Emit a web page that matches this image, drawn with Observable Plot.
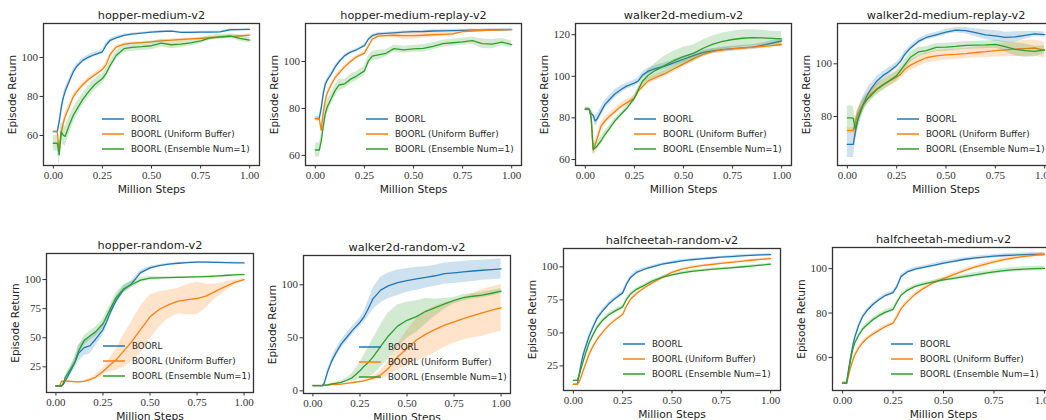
<!DOCTYPE html>
<html><head><meta charset="utf-8">
<script src="https://cdn.jsdelivr.net/npm/d3@7"></script>
<script src="https://cdn.jsdelivr.net/npm/@observablehq/plot@0.6"></script>
<style>
html,body{margin:0;padding:0;background:#fff;}
#fig{position:relative;width:1046px;height:420px;overflow:hidden;background:#fff;}
#fig > svg{position:absolute;}
</style></head><body><div id="fig"></div>
<script>
// ---------- data ----------
const steps = [0, 0.02, 0.03, 0.04, 0.05, 0.06, 0.08, 0.1, 0.12, 0.15, 0.18, 0.21, 0.25, 0.27, 0.29, 0.32, 0.36, 0.4, 0.45, 0.5, 0.55, 0.6, 0.65, 0.7, 0.75, 0.8, 0.85, 0.9, 0.95, 1.0];
const seriesNames = ["BOORL", "BOORL (Uniform Buffer)", "BOORL (Ensemble Num=1)"];
const xTicks = [0, 0.25, 0.5, 0.75, 1];

// hopper-medium-v2
const hopperMediumTicks = [60, 80, 100];
const hopperMediumBoorl = [62, 62, 67, 74, 79, 82.5, 87.5, 92.3, 95.5, 98.5, 100.2, 101.5, 102.9, 106.5, 108.8, 110, 111.3, 112, 112.5, 113, 113.3, 113.5, 112.8, 112.9, 113, 113, 113.1, 114.2, 114.3, 114.4];
const hopperMediumUniform = [62, 62, 52, 61, 66, 69.6, 74.4, 79.5, 82.5, 86, 88.8, 91, 93.8, 96.5, 101.5, 105.3, 106.8, 107.3, 107.6, 108, 108.5, 108.9, 109.2, 109.5, 109.8, 110.1, 110.4, 110.7, 111, 111.4];
const hopperMediumEnsemble = [56, 56, 50, 62, 60.2, 59.5, 65, 70, 73.5, 78.5, 82.5, 86, 89.2, 92, 96, 101, 104.5, 105.2, 105.5, 106, 107.3, 106.5, 106.8, 107.5, 108.5, 110, 110.5, 111, 109.8, 108.9];
const hopperMediumBoorlBand = [0.5, 0.5, 2, 2, 2, 2, 1.5, 1.5, 1.3, 1.2, 1.2, 1.2, 1.2, 1.2, 1, 0.8, 0.6, 0.5, 0.4, 0.4, 0.4, 0.4, 0.4, 0.4, 0.4, 0.4, 0.4, 0.4, 0.4, 0.4];
const hopperMediumUniformBand = [0.5, 0.5, 2, 2.5, 2.5, 2, 1.5, 1.5, 1.3, 1.2, 1.2, 1.2, 1.2, 1.2, 1, 0.8, 0.6, 0.5, 0.5, 0.5, 0.5, 0.5, 0.5, 0.5, 0.5, 0.5, 0.6, 0.7, 0.8, 0.8];
const hopperMediumEnsembleBand = [4, 4, 5, 5, 5, 5, 4.5, 4, 3.5, 3, 3, 3, 2.5, 2.5, 2.5, 2, 2, 2, 2, 2, 2, 2, 1.8, 1.5, 1.5, 1.2, 1.2, 1.2, 1.5, 1.5];

// hopper-medium-replay-v2
const hopperReplayTicks = [60, 80, 100];
const hopperReplayBoorl = [75.7, 75.7, 80, 86, 90, 92, 94.5, 97.5, 99.8, 102.5, 104, 105, 106.8, 109.5, 111, 111.8, 112, 112.2, 112.5, 112.7, 112.8, 113, 113.1, 113.2, 113.3, 113.4, 113.4, 113.5, 113.5, 113.6];
const hopperReplayUniform = [75.7, 75.7, 70.8, 78, 83, 86.4, 90, 93, 95, 97.8, 100, 102, 103.6, 106.5, 109.5, 110.8, 111, 111.2, 111, 111, 111.2, 111.4, 111.6, 111.8, 112.7, 113, 113.2, 113.4, 113.5, 113.6];
const hopperReplayEnsemble = [62.3, 62.3, 66, 72, 77.5, 80.5, 84, 87.5, 90, 90.5, 92.5, 93.8, 96, 100.2, 102.3, 102.8, 103.5, 105.5, 105, 105.4, 105.6, 106.5, 107.6, 108, 108.4, 108.9, 107.6, 107.4, 108.3, 107.2];
const hopperReplayBoorlBand = [1, 1, 1.5, 1.5, 1.2, 1, 0.8, 0.8, 0.7, 0.6, 0.5, 0.5, 0.5, 0.5, 0.5, 0.5, 0.5, 0.5, 0.5, 0.5, 0.5, 0.5, 0.5, 0.5, 0.5, 0.5, 0.5, 0.5, 0.5, 0.5];
const hopperReplayUniformBand = [0.5, 0.5, 1.5, 1.5, 1.2, 1, 1, 0.8, 0.8, 0.7, 0.7, 0.7, 0.7, 0.8, 0.8, 0.7, 0.7, 0.8, 1.5, 1.5, 1.2, 1, 1, 0.8, 0.6, 0.5, 0.5, 0.5, 0.5, 0.5];
const hopperReplayEnsembleBand = [3, 3, 3, 3, 3, 3, 2.5, 2.5, 2.5, 2, 2, 2, 2, 2, 2, 2, 1.5, 1.5, 1.5, 1.5, 1.5, 1.5, 1.5, 1.5, 1.5, 1.5, 2, 2, 1.5, 1.5];

// walker2d-medium-v2
const walkerMediumTicks = [60, 80, 100, 120];
const walkerMediumBoorl = [84.2, 84.2, 82, 81.3, 78.5, 79.5, 83, 86.5, 88.5, 91.5, 93.5, 95.3, 96.7, 97.8, 100.5, 102.5, 103.8, 104.8, 106.5, 108.2, 110, 111.5, 112.2, 112.8, 113.3, 113.7, 114, 114.9, 116, 117];
const walkerMediumUniform = [84.2, 84.2, 80, 64.5, 67, 70, 76, 78.5, 80.5, 83, 85.5, 87.2, 89.5, 93, 95, 97.8, 99.5, 101, 103.5, 106, 108.5, 110.5, 112, 112.7, 113.2, 113.6, 114, 114.3, 114.8, 115.3];
const walkerMediumEnsemble = [84.2, 84.2, 80, 65, 65.5, 66.5, 69, 72, 74.5, 78.5, 81.5, 84.5, 89.5, 93.5, 97.5, 100.5, 103, 105, 107.5, 109.5, 111, 113.5, 115.5, 116.8, 117.7, 118.3, 118.6, 118.5, 118.2, 118];
const walkerMediumBoorlBand = [1, 1, 1.5, 1.5, 2.5, 2.5, 2, 2, 2, 2, 1.8, 1.5, 1.5, 1.5, 1.5, 1.5, 1.5, 1.5, 1.5, 1.5, 1.2, 1.2, 1.2, 1.2, 1.2, 1.2, 1.2, 1.2, 1.2, 1.2];
const walkerMediumUniformBand = [0.5, 0.5, 1.5, 2.5, 2.5, 2, 2, 1.8, 1.5, 1.5, 1.5, 1.5, 1.5, 1.5, 1.5, 1.5, 1.5, 1.5, 1.5, 1.5, 1.5, 1.2, 1.2, 1, 1, 1, 1, 1, 1, 1];
const walkerMediumEnsembleBand = [0.5, 0.5, 1.5, 2.5, 2.5, 2, 2, 1.8, 1.5, 1.2, 1.2, 1.2, 1.5, 1.5, 2, 2.5, 3.5, 4.5, 4.5, 4.5, 4, 4, 4, 4, 4, 4, 3.8, 3.6, 3.5, 3.5];

// walker2d-medium-replay-v2
const walkerReplayTicks = [80, 100];
const walkerReplayBoorl = [69.4, 69.4, 69.4, 74, 78, 80.5, 84.5, 88, 90.5, 93.5, 95.5, 97, 99.4, 101, 103.5, 106, 108.5, 110, 111, 112, 112.8, 112.6, 111.8, 111, 110.6, 110, 110.2, 110.8, 111.4, 111.1];
const walkerReplayUniform = [74.7, 74.7, 74.7, 77.5, 80.4, 82, 84.5, 86.5, 88.5, 90.5, 92, 93.3, 95, 96, 97.8, 99.5, 101, 102.3, 103, 103.4, 103.6, 103.9, 104.3, 104.6, 105, 105.3, 105.6, 105.8, 106, 105.1];
const walkerReplayEnsemble = [79.5, 79.5, 79.3, 75.3, 78, 80.5, 84.5, 86.5, 88, 90.3, 92, 93.5, 95.5, 97.5, 99.5, 102.5, 104.5, 105, 106.2, 106.3, 106.6, 107, 107.1, 107.2, 107.4, 106.5, 105.5, 105, 104.7, 105.3];
const walkerReplayBoorlBand = [5, 5, 5, 4.5, 4, 3.5, 3, 2.5, 2, 1.8, 1.5, 1.5, 1.2, 1.2, 1.2, 1, 1, 1, 1, 1, 1, 1.2, 1.5, 1.8, 2, 2, 2, 1.5, 1, 1];
const walkerReplayUniformBand = [1, 1, 1, 1.5, 2, 2, 2, 2, 2, 2, 2, 2, 2, 2, 2, 2, 2, 2, 2, 2, 2, 2, 2, 2.2, 2.4, 2.6, 2.8, 3, 3, 3];
const walkerReplayEnsembleBand = [4.5, 4.5, 4.5, 4, 3.5, 3, 2.5, 2, 2, 2, 2, 2, 2, 2, 2, 2, 1.8, 1.5, 1.5, 1.5, 1.5, 1.5, 1.5, 1.5, 1.5, 2, 2.5, 2.5, 2, 1.5];

// hopper-random-v2
const hopperRandomTicks = [25, 50, 75, 100];
const hopperRandomBoorl = [8.5, 8.5, 8.5, 10, 13, 16, 22, 28.5, 36.5, 41.5, 43, 48.5, 57, 64, 72, 82, 91.5, 96, 106, 110, 112, 113.2, 114, 114.6, 114.9, 114.9, 114.7, 114.5, 114.4, 114.3];
const hopperRandomUniform = [8.5, 8.5, 12.5, 12.5, 12.5, 12.8, 12.5, 12, 12, 12.5, 14, 16, 21, 24, 27, 31, 38.5, 46, 57, 68, 74.5, 78.5, 81.5, 82.7, 83.7, 86, 90, 94, 97.5, 100];
const hopperRandomEnsemble = [8.5, 8.5, 8.5, 11, 16, 18.5, 23.5, 29, 38.5, 47.5, 51.5, 55, 62, 68.5, 75, 84.5, 92, 95.5, 99.5, 101.2, 101.5, 101.7, 101.9, 102.1, 102.3, 102.6, 103, 103.5, 104, 104.3];
const hopperRandomBoorlBand = [0.5, 0.5, 0.5, 1, 2, 3, 4, 5, 7, 7, 7, 6, 5, 4.5, 4, 3.5, 3, 2.5, 2, 1.5, 1, 0.8, 0.8, 0.6, 0.6, 0.6, 0.6, 0.6, 0.6, 0.6];
const hopperRandomUniformBand = [0.3, 0.3, 0.5, 0.5, 0.5, 0.5, 0.5, 0.5, 0.5, 1, 1, 2, 3, 4, 6, 9, 14, 17, 20, 19, 15, 12, 11, 13, 14, 10, 6, 4, 2, 1];
const hopperRandomEnsembleBand = [0.5, 0.5, 0.5, 1, 1.5, 2, 2.5, 3, 3.5, 4, 4, 4, 4, 4, 4, 4, 3.5, 3, 2, 1.5, 1, 0.8, 0.7, 0.6, 0.6, 0.6, 0.6, 0.6, 0.6, 0.6];

// walker2d-random-v2
const walkerRandomTicks = [0, 50, 100];
const walkerRandomBoorl = [5, 5, 5, 5, 5, 7, 19, 28, 35, 44, 50.5, 57, 64.7, 69.4, 76, 87, 95, 99, 102, 104, 105.5, 107, 108.5, 110.5, 111.3, 112.2, 113, 113.7, 114.3, 115];
const walkerRandomUniform = [5, 5, 5, 5, 5, 5.2, 5.5, 5.8, 6, 6.3, 7, 7.8, 8.8, 9.5, 10.3, 12, 15, 21, 32, 40, 48, 53.5, 58, 62, 65, 68, 71, 73.5, 76, 78.2];
const walkerRandomEnsemble = [5, 5, 5, 5, 5, 5.3, 5.6, 6.5, 7, 8, 10, 12.5, 18.9, 23, 26, 32, 42, 51.5, 61, 66.5, 70, 75, 78.5, 82, 85.2, 87.8, 89.2, 90.2, 92, 94];
const walkerRandomBoorlBand = [0.5, 0.5, 0.5, 0.5, 0.5, 1, 2, 3, 4, 4, 4, 4, 4, 5, 7, 10, 12, 12, 12, 11, 11, 10, 10, 10, 10, 10, 10, 9.5, 9.5, 9.5];
const walkerRandomUniformBand = [0.3, 0.3, 0.3, 0.3, 0.3, 0.3, 0.3, 0.3, 0.3, 0.3, 0.4, 0.4, 0.5, 1, 1.5, 2, 4, 7, 12, 17, 20, 22, 22, 21, 20, 20, 21, 22, 22, 22];
const walkerRandomEnsembleBand = [0.3, 0.3, 0.3, 0.3, 0.3, 0.3, 0.5, 0.7, 1, 1.5, 2, 4, 8, 10, 13, 17, 20, 22, 20, 17, 15, 12, 8, 5, 3, 3, 2.5, 2.5, 2.5, 2.5];

// halfcheetah-random-v2
const cheetahRandomTicks = [25, 50, 75, 100];
const cheetahRandomBoorl = [11.1, 11.1, 19, 27, 33.5, 38.5, 47.5, 54.5, 61, 67, 72, 75.8, 80.3, 87, 92, 95.8, 98.2, 99.9, 102, 103.3, 104.5, 105.4, 106.1, 106.7, 107.3, 107.8, 108.3, 108.7, 109, 109.3];
const cheetahRandomUniform = [11.1, 11.1, 13, 17, 21.5, 25.5, 34, 40, 45, 50.8, 55.7, 59.6, 63.9, 70.5, 75.5, 79.8, 84.2, 87.9, 91.8, 95.9, 98.2, 99.8, 100.9, 101.8, 102.6, 103.4, 104.2, 105, 105.7, 106.3];
const cheetahRandomEnsemble = [14.1, 14.1, 18, 23.5, 28.5, 33.5, 42.5, 48.7, 54.3, 59.8, 63.7, 66.5, 69.7, 75.5, 79.5, 83, 86, 89.3, 92, 93.9, 95.4, 96.6, 97.4, 98.1, 98.7, 99.3, 99.9, 100.6, 101.3, 102];
const cheetahRandomBoorlBand = [0.5, 0.5, 1, 1.5, 1.5, 1.5, 1.5, 1.5, 1.5, 1.5, 1.5, 1.5, 1.5, 1.5, 1.5, 1.5, 1.2, 1.2, 1, 1, 1, 1, 0.8, 0.8, 0.8, 0.8, 0.8, 0.8, 0.8, 0.8];
const cheetahRandomUniformBand = [0.5, 0.5, 0.8, 0.8, 0.8, 0.8, 0.8, 0.8, 0.8, 0.8, 0.8, 0.8, 0.8, 0.8, 0.8, 0.8, 0.8, 0.8, 0.8, 0.8, 0.8, 0.8, 0.8, 0.8, 0.8, 0.8, 0.8, 0.8, 0.8, 0.8];
const cheetahRandomEnsembleBand = [0.5, 0.5, 1, 1.2, 1.2, 1.2, 1.2, 1.5, 1.5, 1.5, 1.5, 1.5, 1.5, 1.2, 1.2, 1.2, 1, 1, 1, 1, 1, 1, 0.8, 0.8, 0.8, 0.8, 0.8, 0.8, 0.8, 0.8];

// halfcheetah-medium-v2
const cheetahMediumTicks = [60, 80, 100];
const cheetahMediumBoorl = [48.4, 48.4, 54.5, 60, 65, 69, 74.5, 78.5, 81, 83.8, 86, 87.8, 89.2, 92, 96.5, 98.5, 99.8, 100.5, 101.5, 102.5, 103.3, 104.1, 104.7, 105.2, 105.6, 105.9, 106.1, 106.3, 106.4, 106.5];
const cheetahMediumUniform = [48.4, 48.4, 52, 55.5, 58.5, 61, 64.3, 66.7, 68.5, 70.5, 72.2, 73.8, 75.4, 78.5, 82, 85, 88.5, 91, 93.6, 95.5, 97.3, 99, 100.5, 101.8, 103, 104, 104.8, 105.5, 106, 106.3];
const cheetahMediumEnsemble = [48.4, 48.4, 54, 59, 63.5, 66.5, 70, 72.8, 74.6, 77, 78.8, 80.3, 81.6, 85, 88, 90.2, 92, 93, 94, 94.9, 95.6, 96.4, 97.1, 97.8, 98.5, 99.1, 99.5, 99.8, 100, 100.1];
const cheetahMediumBoorlBand = [0.5, 0.5, 0.8, 0.8, 0.8, 0.8, 0.8, 0.8, 0.8, 0.8, 0.8, 0.8, 0.8, 0.8, 0.8, 0.8, 0.8, 0.8, 0.8, 0.8, 0.8, 0.8, 0.8, 0.8, 0.8, 0.8, 0.8, 0.8, 0.8, 0.8];
const cheetahMediumUniformBand = [0.5, 0.5, 0.8, 0.8, 0.8, 0.8, 0.8, 0.8, 0.8, 0.8, 0.8, 0.8, 0.8, 0.8, 0.8, 0.8, 0.8, 0.8, 0.8, 0.8, 0.8, 0.8, 0.8, 0.8, 0.8, 0.8, 0.8, 0.8, 0.8, 0.8];
const cheetahMediumEnsembleBand = [0.5, 0.5, 0.8, 0.8, 0.8, 0.8, 0.8, 1, 1, 1, 1, 1, 1, 0.8, 0.8, 0.8, 0.8, 0.8, 0.8, 0.8, 0.8, 0.8, 1, 1, 1, 1, 1, 1, 1, 1];

// ---------- layout ----------
const colors = ["#1f77b4", "#ff7f0e", "#2ca02c"];
const panels = [
  {title: "hopper-medium-v2", s: [hopperMediumBoorl, hopperMediumUniform, hopperMediumEnsemble], b: [hopperMediumBoorlBand, hopperMediumUniformBand, hopperMediumEnsembleBand], ticks: hopperMediumTicks, yd: [44.6, 117.4], L: 43, T: 23, W: 216, H: 142, lx: -128},
  {title: "hopper-medium-replay-v2", s: [hopperReplayBoorl, hopperReplayUniform, hopperReplayEnsemble], b: [hopperReplayBoorlBand, hopperReplayUniformBand, hopperReplayEnsembleBand], ticks: hopperReplayTicks, yd: [55.7, 116.2], L: 305, T: 23, W: 216, H: 142, lx: -126},
  {title: "walker2d-medium-v2", s: [walkerMediumBoorl, walkerMediumUniform, walkerMediumEnsemble], b: [walkerMediumBoorlBand, walkerMediumUniformBand, walkerMediumEnsembleBand], ticks: walkerMediumTicks, yd: [57.1, 125.4], L: 575, T: 23, W: 216, H: 142, lx: -128},
  {title: "walker2d-medium-replay-v2", s: [walkerReplayBoorl, walkerReplayUniform, walkerReplayEnsemble], b: [walkerReplayBoorlBand, walkerReplayUniformBand, walkerReplayEnsembleBand], ticks: walkerReplayTicks, yd: [61.4, 115.3], L: 837, T: 23, W: 217, H: 142, lx: -128},
  {title: "hopper-random-v2", s: [hopperRandomBoorl, hopperRandomUniform, hopperRandomEnsemble], b: [hopperRandomBoorlBand, hopperRandomUniformBand, hopperRandomEnsembleBand], ticks: hopperRandomTicks, yd: [2.9, 122.4], L: 46, T: 253, W: 207, H: 139, lx: -121},
  {title: "walker2d-random-v2", s: [walkerRandomBoorl, walkerRandomUniform, walkerRandomEnsemble], b: [walkerRandomBoorlBand, walkerRandomUniformBand, walkerRandomEnsembleBand], ticks: walkerRandomTicks, yd: [-2.5, 127.6], L: 303, T: 255, W: 207, H: 138, lx: -122},
  {title: "halfcheetah-random-v2", s: [cheetahRandomBoorl, cheetahRandomUniform, cheetahRandomEnsemble], b: [cheetahRandomBoorlBand, cheetahRandomUniformBand, cheetahRandomEnsembleBand], ticks: cheetahRandomTicks, yd: [6.4, 113.9], L: 562.5, T: 248, W: 217, H: 142, lx: -128},
  {title: "halfcheetah-medium-v2", s: [cheetahMediumBoorl, cheetahMediumUniform, cheetahMediumEnsemble], b: [cheetahMediumBoorlBand, cheetahMediumUniformBand, cheetahMediumEnsembleBand], ticks: cheetahMediumTicks, yd: [45.1, 109.5], L: 832, T: 247, W: 222, H: 143, lx: -134}
];

const ML = 50, MR = 14, MT = 26, MB = 30;
const SANS = "DejaVu Sans";
const SERIF = "Liberation Serif";
const legendRows = [-46, -31, -16];
const fig = document.getElementById("fig");

for (const p of panels) {
  const marks = [];
  p.s.forEach((vals, k) => {
    const data = steps.map((x, i) => ({step: x, value: vals[i], lo: vals[i] - p.b[k][i], hi: vals[i] + p.b[k][i]}));
    marks.push(Plot.areaY(data, {x: "step", y1: "lo", y2: "hi", fill: colors[k], fillOpacity: 0.22}));
    marks.push(Plot.lineY(data, {x: "step", y: "value", stroke: colors[k], strokeWidth: 1.3}));
  });
  marks.push(Plot.axisX(xTicks, {tickFormat: d3.format(".2f"), tickSize: 3.5, tickPadding: 2, fontSize: 11, label: null}));
  marks.push(Plot.axisY(p.ticks, {tickSize: 3.5, tickPadding: 2, fontSize: 11, label: null}));
  marks.push(Plot.frame({stroke: "#333", strokeWidth: 1.3}));
  marks.push(Plot.text([p.title], {frameAnchor: "top", lineAnchor: "middle", textAnchor: "middle", dy: -8, fontSize: 11.3, fontFamily: SANS, fill: "#222"}));
  marks.push(Plot.text(["Episode Return"], {frameAnchor: "left", lineAnchor: "middle", textAnchor: "middle", rotate: -90, dx: -31, fontSize: 10.5, fontFamily: SANS, fill: "#222"}));
  marks.push(Plot.text(["Million Steps"], {frameAnchor: "bottom", lineAnchor: "middle", textAnchor: "middle", dy: 24, fontSize: 10.7, fontFamily: SANS, fill: "#222"}));
  // legend
  marks.push((index, scales, values, dim) => {
    const g = d3.create("svg:g");
    const R = dim.width - dim.marginRight, B = dim.height - dim.marginBottom;
    seriesNames.forEach((name, i) => {
      const y = B + legendRows[i];
      const tx = R + p.lx;
      g.append("line").attr("x1", tx - 29).attr("x2", tx - 7).attr("y1", y).attr("y2", y)
        .attr("stroke", colors[i]).attr("stroke-width", 1.5);
      g.append("text").attr("x", tx).attr("y", y).attr("dy", "0.35em")
        .attr("text-anchor", "start")
        .attr("font-family", SANS).attr("font-size", 8.7).attr("fill", "#222").text(name);
    });
    return g.node();
  });

  const chart = Plot.plot({
    width: p.W + ML + MR,
    height: p.H + MT + MB,
    marginLeft: ML, marginRight: MR, marginTop: MT, marginBottom: MB,
    x: {domain: [-0.05, 1.05]},
    y: {domain: p.yd},
    style: {fontFamily: SERIF, color: "#333", background: "transparent"},
    marks
  });
  chart.style.left = (p.L - ML) + "px";
  chart.style.top = (p.T - MT) + "px";
  fig.appendChild(chart);
}
</script></body></html>
